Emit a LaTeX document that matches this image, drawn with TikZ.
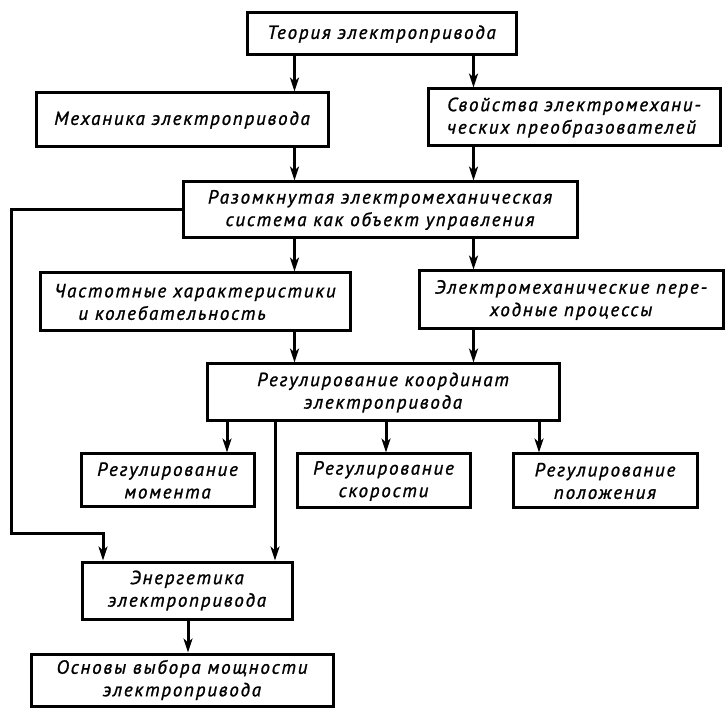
\documentclass[tikz,border=0pt]{standalone}
\usepackage{fontspec}
\setmainfont{PT Sans}[LetterSpace=9.5, FakeBold=1.2]
\usetikzlibrary{arrows.meta}
\newcommand\rtext{\fontsize{19}{22.5}\selectfont\itshape}
\tikzset{
  box/.style={draw, line width=3pt, inner sep=0pt, font=\rtext, align=center},
  arr/.style={line width=3pt, -{Stealth[length=14pt,width=9pt,inset=4pt]}},
  ln/.style={line width=3pt}
}
\begin{document}
\begin{tikzpicture}[x=1pt,y=-1pt]
\useasboundingbox[fill=white] (0,0) rectangle (726,708);
% boxes
\node[box, minimum width=269pt, minimum height=42pt] (teor) at (381.5,34) {Теория электропривода};
\node[box, minimum width=292pt, minimum height=54pt] (mech) at (182,120) {Механика электропривода};
\node[box, minimum width=292pt, minimum height=57pt, align=left] (svoi) at (574,117.5) {Свойства электромехани-\\ческих преобразователей};
\node[box, minimum width=394pt, minimum height=56pt] (razo) at (380,210) {Разомкнутая электромеханическая\\система как объект управления};
\node[box, minimum width=310pt, minimum height=58pt, align=left] (chast) at (195,302) {Частотные характеристики\\\hspace*{24pt}и колебательность};
\node[box, minimum width=304pt, minimum height=58pt] (elmech) at (571,300) {Электромеханические пере-\\ходные процессы};
\node[box, minimum width=352pt, minimum height=57pt] (regk) at (383,392.5) {Регулирование координат\\электропривода};
\node[box, minimum width=173pt, minimum height=53pt] (regm) at (167.5,480.5) {Регулирование\\момента};
\node[box, minimum width=173pt, minimum height=54pt] (regs) at (383.5,481) {Регулирование\\скорости};
\node[box, minimum width=184pt, minimum height=54pt] (regp) at (605,481) {Регулирование\\положения};
\node[box, minimum width=210pt, minimum height=57pt] (energ) at (187,590.5) {Энергетика\\электропривода};
\node[box, minimum width=302pt, minimum height=52pt] (osn) at (182,680) {Основы выбора мощности\\электропривода};
% column coordinates
\coordinate (cL) at (294.5,0);
\coordinate (cR) at (473.5,0);
\coordinate (cM) at (227,0);
\coordinate (cS) at (386,0);
\coordinate (cP) at (539,0);
\coordinate (cE) at (275,0);
\coordinate (cO) at (188,0);
\coordinate (fb1) at (11,210);
\coordinate (fb2) at (11,533);
\coordinate (fb3) at (103,533);
% connectors
\draw[arr] (teor.south -| cL) -- (mech.north -| cL);
\draw[arr] (teor.south -| cR) -- (svoi.north -| cR);
\draw[arr] (mech.south -| cL) -- (razo.north -| cL);
\draw[arr] (svoi.south -| cR) -- (razo.north -| cR);
\draw[arr] (razo.south -| cL) -- (chast.north -| cL);
\draw[arr] (razo.south -| cR) -- (elmech.north -| cR);
\draw[arr] (chast.south -| cL) -- (regk.north -| cL);
\draw[arr] (elmech.south -| cR) -- (regk.north -| cR);
\draw[arr] (regk.south -| cM) -- (regm.north -| cM);
\draw[arr] (regk.south -| cS) -- (regs.north -| cS);
\draw[arr] (regk.south -| cP) -- (regp.north -| cP);
\draw[arr] (regk.south -| cE) -- (energ.north -| cE);
\draw[arr, line join=miter] (razo.west) -- (fb1) -- (fb2) -- (fb3) -- (energ.north -| fb3);
\draw[arr] (energ.south -| cO) -- (osn.north -| cO);
\end{tikzpicture}
\end{document}
